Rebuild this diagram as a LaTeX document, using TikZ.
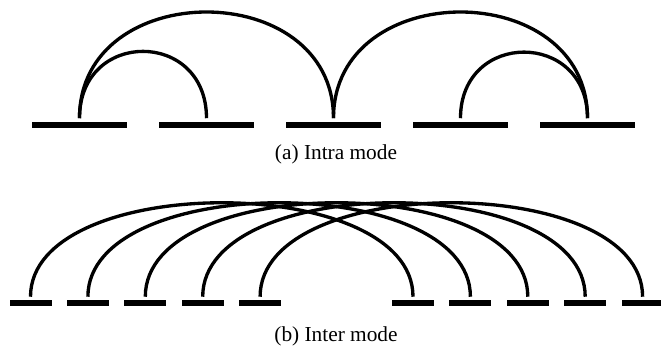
\documentclass[tikz,border=0pt]{standalone}
\usepackage{fontspec}
\setmainfont{Liberation Serif}
\usepackage{tikz}

\begin{document}
\begin{tikzpicture}[
  x=0.75pt,y=0.75pt,
  font=\fontsize{16}{19}\selectfont,
  wide/.style={fill=black,draw=none,inner sep=0pt,minimum width=70.8pt,minimum height=4.5pt},
  short/.style={fill=black,draw=none,inner sep=0pt,minimum width=31.5pt,minimum height=4.5pt},
  link/.style={line width=2.5pt},
  caption/.style={anchor=base}
]
\path[use as bounding box] (0,0) rectangle (661,346);
% (a) intra mode
\node[wide] (a1) at (79.5,220.5) {};
\node[wide] (a2) at (206.5,220.5) {};
\node[wide] (a3) at (333.5,220.5) {};
\node[wide] (a4) at (460.5,220.5) {};
\node[wide] (a5) at (587.5,220.5) {};
\draw[link] ([yshift=3pt]a1.north) to[out=90,in=90,looseness=1.43] ([yshift=3pt]a3.north);
\draw[link] ([yshift=3pt]a1.north) to[out=90,in=90,looseness=1.8] ([yshift=3pt]a2.north);
\draw[link] ([yshift=3pt]a3.north) to[out=90,in=90,looseness=1.43] ([yshift=3pt]a5.north);
\draw[link] ([yshift=3pt]a4.north) to[out=90,in=90,looseness=1.78] ([yshift=3pt]a5.north);
\node[caption] at (336,186) {(a) Intra mode};
% (b) inter mode
\node[short] (l1) at (30.5,43) {};
\node[short] (l2) at (87.9,43) {};
\node[short] (l3) at (145.3,43) {};
\node[short] (l4) at (202.7,43) {};
\node[short] (l5) at (260.1,43) {};
\node[short] (r1) at (413,43) {};
\node[short] (r2) at (470.4,43) {};
\node[short] (r3) at (527.8,43) {};
\node[short] (r4) at (585.2,43) {};
\node[short] (r5) at (642.6,43) {};
\draw[link] ([yshift=2.25pt]l1.north) to[out=90,in=90,looseness=0.84] ([yshift=2.25pt]r1.north);
\draw[link] ([yshift=2.25pt]l2.north) to[out=90,in=90,looseness=0.84] ([yshift=2.25pt]r2.north);
\draw[link] ([yshift=2.25pt]l3.north) to[out=90,in=90,looseness=0.84] ([yshift=2.25pt]r3.north);
\draw[link] ([yshift=2.25pt]l4.north) to[out=90,in=90,looseness=0.84] ([yshift=2.25pt]r4.north);
\draw[link] ([yshift=2.25pt]l5.north) to[out=90,in=90,looseness=0.84] ([yshift=2.25pt]r5.north);
\node[caption] at (336,4.3) {(b) Inter mode};
\end{tikzpicture}
\end{document}
